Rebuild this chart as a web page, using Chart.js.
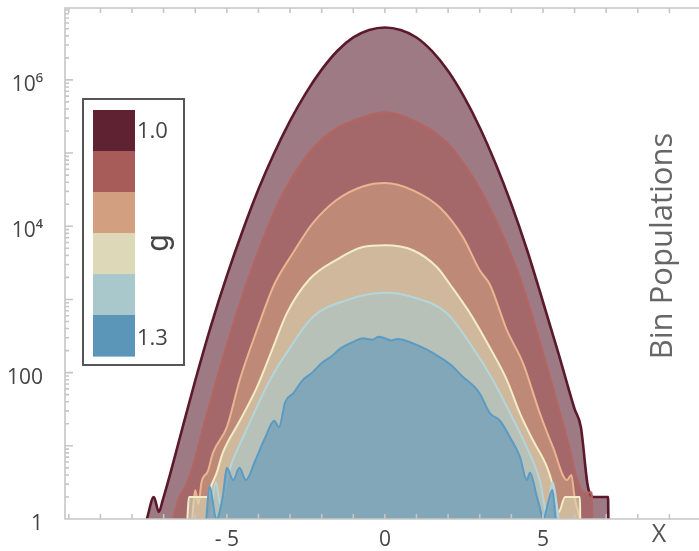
<!DOCTYPE html>
<html>
<head>
<meta charset="utf-8">
<script src="https://cdn.jsdelivr.net/npm/chart.js@4.4.1/dist/chart.umd.min.js"></script>
<style>
  html, body { margin: 0; padding: 0; background: #fff; overflow: hidden; }
</style>
</head>
<body>
<canvas id="bins" width="701" height="551"></canvas>
<script>
// ===== Datos =====
const xTickValues = [-5, 0, 5];
const xTickLabels = ['- 5', '0', '5'];
const yTickValues = [1, 100, 1e4, 1e6];
const yTickLabels = ['1', '100', '10⁴', '10⁶'];
const gLegend = ['1.0', '1.3'];
const gFill = ['#5e2232', '#a85c5a', '#d2a080', '#dcd8b8', '#a8c8cc', '#5b96b8'];
const gLine = ['#5a1a2b', '#b4655f', '#e8b690', '#f3edc6', '#b2d6dc', '#5a9bc4'];

const x1 = [-7.53, -7.31, -7.15, -7.03, -6.8, -6.5, -6.0, -5.5, -5.0, -4.5, -4.0, -3.5, -3.0, -2.5, -2.0, -1.5, -1.0, -0.5, 0, 0.5, 1.0, 1.5, 2.0, 2.5, 3.0, 3.5, 4.0, 4.5, 5.0, 5.5, 6.0, 6.2, 6.42, 6.6, 7.06, 7.07];
const n1 = [1, 2, 1.25, 1.8, 4, 12.3, 78, 440, 2100, 8700, 3.2e4, 1.0e5, 2.75e5, 6.6e5, 1.38e6, 2.5e6, 3.8e6, 4.8e6, 5.2e6, 4.8e6, 3.8e6, 2.45e6, 1.32e6, 5.9e5, 2.24e5, 7.2e4, 2.0e4, 4700, 930, 178, 32, 18, 2.8, 2, 2, 1];

const x2 = [-6.7, -6.5, -6.3, -6.08, -5.76, -5.32, -4.9, -4.37, -3.86, -3.32, -2.59, -1.74, -0.7, 0, 0.89, 1.96, 2.78, 3.42, 4.05, 4.27, 4.81, 5.44, 5.85, 6.08, 6.3, 6.55, 6.56];
const n2 = [1, 2, 2.8, 5.2, 17, 81, 330, 1660, 6600, 2.3e4, 7.9e4, 1.9e5, 3.1e5, 3.6e5, 2.8e5, 1.4e5, 4.7e4, 1.45e4, 3550, 2000, 355, 40, 9, 3.4, 2.3, 2.3, 1];

const x3 = [-6.1, -6.0, -5.9, -5.8, -5.6, -5.44, -5.0, -4.59, -4.05, -3.5, -2.91, -2.28, -1.52, -0.7, 0, 0.89, 1.74, 2.47, 3.0, 3.32, 3.86, 4.37, 4.9, 5.32, 5.76, 5.9, 6.0, 6.17];
const n3 = [1, 2.5, 1.6, 3.2, 4.5, 8, 18, 80, 380, 1600, 4300, 1.1e4, 2.3e4, 3.5e4, 3.9e4, 3.1e4, 1.8e4, 7100, 2500, 1600, 380, 135, 28, 9.5, 3.4, 4, 2, 1];

const x4 = [-6.25, -6.2, -5.6, -5.5, -5.32, -5.13, -4.59, -4.05, -3.54, -3.1, -2.4, -1.52, -0.7, 0, 0.89, 1.65, 2.06, 2.69, 3.32, 3.86, 4.27, 4.68, 5.13, 5.32, 5.5, 5.7, 6.17, 6.18];
const n4 = [1, 2, 2, 2.8, 4.3, 8, 22, 63, 220, 650, 1860, 3500, 5200, 5500, 4700, 2750, 1600, 650, 220, 79, 28, 12, 5.1, 2.8, 1.25, 2, 2, 1];

const x5 = [-5.5, -5.35, -5.2, -4.9, -4.49, -4.05, -3.64, -3.0, -2.28, -1.2, 0, 0.89, 1.96, 2.78, 3.42, 3.96, 4.49, 4.9, 5.13, 5.3, 5.5];
const n5 = [1, 3.2, 1.6, 5, 13, 34, 79, 220, 575, 980, 1230, 1070, 650, 220, 79, 28, 9.5, 3.4, 1.2, 3.2, 1];

const x6 = [-5.65, -5.55, -5.33, -5.13, -5.0, -4.8, -4.6, -4.4, -4.1, -3.8, -3.5, -3.35, -3.15, -2.9, -2.6, -2.3, -2.0, -1.7, -1.4, -1.0, -0.7, -0.4, -0.2, 0, 0.2, 0.4, 0.89, 1.3, 1.74, 2.1, 2.47, 2.8, 3.0, 3.32, 3.64, 3.96, 4.27, 4.49, 4.59, 4.81, 4.9, 5.0, 5.3, 5.4];
const n6 = [1, 2.8, 1, 2, 5, 3.4, 5, 3.4, 6.3, 12.6, 22, 18, 40, 52, 79, 100, 135, 166, 214, 263, 295, 282, 309, 295, 275, 288, 251, 209, 162, 126, 87, 66, 52, 28, 22, 13, 7.1, 3.4, 4.3, 2, 1.45, 1, 2.5, 1];

const seriesX = [x1, x2, x3, x4, x5, x6];
const seriesN = [n1, n2, n3, n4, n5, n6];

// ===== Chart.js =====
Chart.defaults.font.family = "'Open Sans', 'DejaVu Sans', sans-serif";
Chart.defaults.animation = false;
const INK = '#444';
const FRAME = '#c6c6c6';

const rgba = (hex, a) => {
    const n = parseInt(hex.slice(1), 16);
    return `rgba(${n >> 16},${(n >> 8) & 255},${n & 255},${a})`;
};

const datasets = seriesX.map((xs, i) => ({
    label: 'g' + (i + 1),
    data: xs.map((x, k) => ({ x, y: seriesN[i][k] })),
    borderColor: gLine[i],
    backgroundColor: rgba(gFill[i], 0.6),
    borderWidth: i === 0 ? 2.6 : 2,
    fill: 'start',
    pointRadius: 0,
    cubicInterpolationMode: 'monotone',
    order: 6 - i
}));

// marco, ticks hacia adentro, leyenda de color y títulos
const deco = {
    id: 'deco',
    afterDatasetsDraw(chart) {
        const { ctx, chartArea: a, scales: { x, y } } = chart;
        ctx.save();
        ctx.strokeStyle = FRAME;
        ctx.lineWidth = 1.6;
        ctx.beginPath();
        ctx.moveTo(a.right, a.top); ctx.lineTo(a.left, a.top);
        ctx.lineTo(a.left, a.bottom); ctx.lineTo(a.right, a.bottom);
        for (let v = -10; v <= 10; v++) {
            const px = x.getPixelForValue(v);
            if (px < a.left + 2) continue;
            ctx.moveTo(px, a.bottom); ctx.lineTo(px, a.bottom - 5);
            ctx.moveTo(px, a.top); ctx.lineTo(px, a.top + 5);
        }
        for (let e = 0; e < 7; e++) {
            for (let m = 1; m < 10; m++) {
                const v = m * Math.pow(10, e);
                if (v > y.max) break;
                const py = y.getPixelForValue(v);
                ctx.moveTo(a.left, py); ctx.lineTo(a.left + (m === 1 ? 8 : 4), py);
            }
        }
        ctx.stroke();
        ctx.restore();
    },
    afterDraw(chart) {
        const { ctx } = chart;
        ctx.save();
        // caja de la barra de color
        ctx.fillStyle = '#fff';
        ctx.fillRect(83, 99, 101, 266);
        ctx.strokeStyle = '#555';
        ctx.lineWidth = 2;
        ctx.strokeRect(83, 99, 101, 266);
        const sh = 246 / gFill.length;
        gFill.forEach((c, i) => {
            ctx.fillStyle = c;
            ctx.fillRect(93, 110 + i * sh, 42, sh + 0.6);
        });
        ctx.fillStyle = INK;
        ctx.font = "22px 'Open Sans'";
        ctx.textAlign = 'left';
        ctx.textBaseline = 'middle';
        ctx.fillText(gLegend[0], 137, 132);
        ctx.fillText(gLegend[1], 137, 339);

        ctx.save();
        ctx.translate(160, 243);
        ctx.rotate(-Math.PI / 2);
        ctx.textAlign = 'center';
        ctx.font = "31px Roboto";
        ctx.fillText('g', 0, 0);
        ctx.restore();

        // títulos de ejes
        ctx.fillStyle = '#555';
        ctx.font = "25px 'Open Sans'";
        ctx.textAlign = 'center';
        ctx.fillText('X', 659, 535);

        ctx.translate(672, 246);
        ctx.rotate(-Math.PI / 2);
        ctx.fillStyle = '#666';
        ctx.font = "31px 'Open Sans'";
        ctx.textBaseline = 'alphabetic';
        ctx.fillText('Bin Populations', 0, 0);
        ctx.restore();
    }
};

new Chart(document.getElementById('bins'), {
    type: 'line',
    data: { datasets },
    plugins: [deco],
    options: {
        responsive: false,
        layout: { padding: { top: 8, left: 0, right: 0, bottom: 0 } },
        plugins: { legend: { display: false }, tooltip: { enabled: false } },
        scales: {
            x: {
                type: 'linear', min: -10.12, max: 10,
                grid: { display: false }, border: { display: false },
                afterBuildTicks: s => { s.ticks = xTickValues.map(v => ({ value: v })); },
                afterFit: s => { s.height = 32; s.paddingLeft = 0; s.paddingRight = 0; },
                ticks: { color: INK, font: { size: 21 }, padding: 0, maxRotation: 0, autoSkip: false,
                    callback: (v, i) => xTickLabels[i] }
            },
            y: {
                type: 'logarithmic', min: 1, max: 9.6e6,
                grid: { display: false }, border: { display: false },
                afterBuildTicks: s => { s.ticks = yTickValues.map(v => ({ value: v })); },
                afterFit: s => { s.width = 65; s.paddingTop = 0; s.paddingBottom = 0; },
                ticks: { color: INK, font: { size: 21 }, padding: 14, labelOffset: 5, autoSkip: false,
                    callback: (v, i) => yTickLabels[i] }
            }
        }
    }
});
</script>
</body>
</html>
